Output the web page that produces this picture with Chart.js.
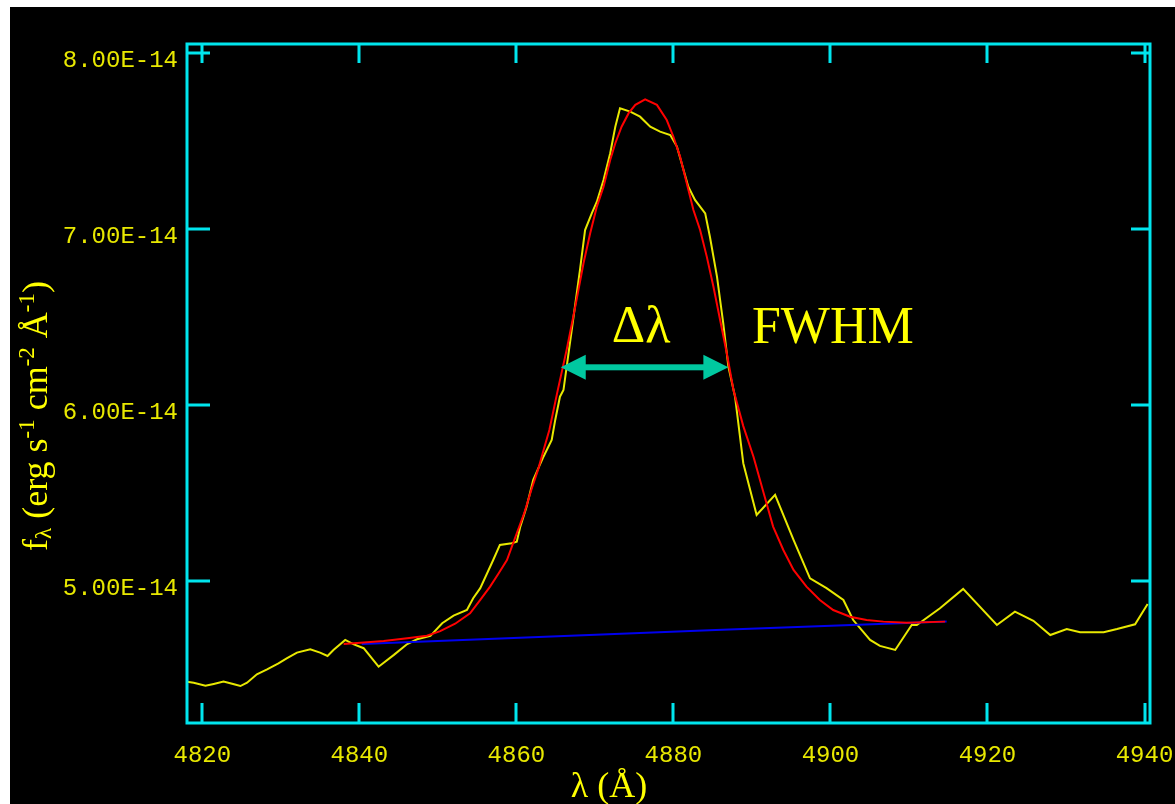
<!DOCTYPE html>
<html><head><meta charset="utf-8">
<script src="https://cdn.jsdelivr.net/npm/chart.js@4.4.1/dist/chart.umd.min.js"></script>
<style>
html,body{margin:0;padding:0;background:#fff;width:1175px;height:804px;overflow:hidden}
#wrap{position:absolute;left:10px;top:7px;width:1165px;height:797px;background:#000}
canvas{display:block}
</style></head><body>
<div id="wrap"><canvas id="c" width="1165" height="797"></canvas></div>
<script>
// ---- data (flux in units of 1e-14 erg s-1 cm-2 A-1) ----
const FLUX_UNIT = 1e-14;
const obsWavelength = [
  4818.05, 4818.9, 4820.4, 4821.45, 4822.7, 4823.8, 4824.85, 4825.7, 4826.95, 4828.25,
  4829.7, 4830.8, 4832.05, 4833.75, 4835.0, 4835.95, 4836.7, 4838.2, 4839.3, 4840.55,
  4842.45, 4844.4, 4846.1, 4847.35, 4849.05, 4850.55, 4852.0, 4853.7, 4854.5, 4855.4,
  4857.05, 4857.9, 4859.4, 4860.05, 4860.5, 4861.3, 4862.15, 4863.45, 4864.5, 4864.95,
  4865.55, 4866.0, 4867.05, 4868.1, 4868.75, 4869.6, 4870.25, 4871.1, 4871.95, 4872.6,
  4873.2, 4874.5, 4875.75, 4877.05, 4878.3, 4879.6, 4880.45, 4881.9, 4882.75, 4884.05,
  4884.65, 4885.55, 4886.35, 4887.0, 4887.85, 4888.9, 4890.6, 4892.95, 4895.3, 4897.4,
  4899.5, 4901.65, 4902.9, 4905.05, 4906.3, 4908.25, 4910.35, 4911.0, 4913.95, 4916.9,
  4921.2, 4923.5, 4925.85, 4928.0, 4930.1, 4931.8, 4934.8, 4936.5, 4938.8, 4940.4
];
const obsFlux = [
  4.428, 4.422, 4.405, 4.415, 4.428, 4.416, 4.403, 4.422, 4.470, 4.498,
  4.532, 4.561, 4.593, 4.612, 4.593, 4.574, 4.608, 4.665, 4.640, 4.618,
  4.513, 4.580, 4.642, 4.669, 4.688, 4.760, 4.803, 4.835, 4.902, 4.959,
  5.119, 5.205, 5.214, 5.223, 5.309, 5.422, 5.574, 5.706, 5.801, 5.915,
  6.047, 6.085, 6.426, 6.767, 6.994, 7.089, 7.155, 7.278, 7.430, 7.581,
  7.686, 7.667, 7.638, 7.581, 7.553, 7.534, 7.468, 7.240, 7.165, 7.089,
  6.956, 6.729, 6.464, 6.218, 6.047, 5.669, 5.375, 5.489, 5.233, 5.015,
  4.959, 4.892, 4.778, 4.665, 4.631, 4.608, 4.750, 4.750, 4.845, 4.955,
  4.750, 4.826, 4.774, 4.693, 4.727, 4.709, 4.709, 4.727, 4.754, 4.869
];
const fitWavelength = [
  4838.0, 4840.15, 4843.1, 4846.1, 4848.6, 4850.3, 4852.2, 4854.1, 4855.4, 4856.65,
  4857.75, 4858.8, 4860.05, 4861.0, 4861.9, 4862.75, 4863.35, 4864.2, 4865.3, 4866.4,
  4867.5, 4868.55, 4869.4, 4870.25, 4871.1, 4871.95, 4872.6, 4873.4, 4874.3, 4875.15,
  4876.4, 4877.9, 4879.15, 4880.0, 4880.85, 4881.7, 4882.55, 4883.4, 4884.25, 4885.1,
  4885.95, 4886.8, 4887.65, 4888.9, 4890.2, 4891.5, 4892.7, 4894.0, 4895.3, 4896.95,
  4898.65, 4900.35, 4902.5, 4904.6, 4906.75, 4909.7, 4914.6
];
const fitFlux = [
  4.642, 4.649, 4.659, 4.674, 4.689, 4.715, 4.757, 4.816, 4.892, 4.968,
  5.044, 5.119, 5.271, 5.385, 5.517, 5.631, 5.726, 5.858, 6.09, 6.313,
  6.559, 6.805, 6.976, 7.127, 7.240, 7.392, 7.487, 7.581, 7.658, 7.705,
  7.737, 7.705, 7.619, 7.524, 7.411, 7.260, 7.108, 6.994, 6.843, 6.672,
  6.483, 6.294, 6.085, 5.88, 5.706, 5.498, 5.309, 5.176, 5.063, 4.968,
  4.892, 4.835, 4.797, 4.778, 4.769, 4.763, 4.769
];
const contWavelength = [4840.3, 4885.4, 4914.8];
const contFlux = [4.642, 4.722, 4.770];

const xTickValues = [4820, 4840, 4860, 4880, 4900, 4920, 4940];
const yTickValues = [5, 6, 7, 8];
const xRange = [4818.05, 4940.7];
const yRange = [4.193, 8.051];

// FWHM annotation (data coordinates)
const fwhmWavelength = [4865.65, 4887.0];
const fwhmLevel = 6.214;
const deltaLabel = { text: 'Δλ', x: 4872.15, y: 6.358 };
const fwhmLabel = { text: 'FWHM', x: 4890.0, y: 6.352 };

const xTitle = 'λ (Å)';
// [text, kind]  kind: 0 normal, -1 subscript, 1 superscript
const yTitleParts = [['f', 0], ['λ', -1], [' (erg s', 0], ['-1', 1], [' cm', 0], ['-2', 1], [' Å', 0], ['-1', 1], [')', 0]];

// ---- styles ----
const YELLOW_TEXT = '#e8e800';
const CYAN = '#00e5ee';
const toPoints = (xs, ys) => xs.map((x, i) => ({ x: x, y: ys[i] * FLUX_UNIT }));

const framePlugin = {
  id: 'frame',
  afterDatasetsDraw(chart) {
    const { ctx, chartArea: a, scales: { x, y } } = chart;
    ctx.save();
    ctx.strokeStyle = CYAN;
    ctx.lineWidth = 3;
    ctx.lineCap = 'butt';
    ctx.strokeRect(a.left, a.top, a.right - a.left, a.bottom - a.top);
    ctx.beginPath();
    xTickValues.forEach(v => {
      const px = Math.round(x.getPixelForValue(v));
      ctx.moveTo(px, a.bottom); ctx.lineTo(px, a.bottom - 20);
      ctx.moveTo(px, a.top); ctx.lineTo(px, a.top + 19);
    });
    yTickValues.forEach(v => {
      const py = Math.round(y.getPixelForValue(v * FLUX_UNIT));
      ctx.moveTo(a.left, py); ctx.lineTo(a.left + 23, py);
      ctx.moveTo(a.right, py); ctx.lineTo(a.right - 19, py);
    });
    ctx.stroke();

    // FWHM arrow
    const x1 = x.getPixelForValue(fwhmWavelength[0]);
    const x2 = x.getPixelForValue(fwhmWavelength[1]);
    const yy = y.getPixelForValue(fwhmLevel * FLUX_UNIT);
    const head = 25, half = 12.5;
    ctx.fillStyle = '#00c8a0';
    ctx.fillRect(x1 + head - 2, yy - 3, (x2 - x1) - 2 * head + 4, 6);
    ctx.beginPath();
    ctx.moveTo(x1, yy); ctx.lineTo(x1 + head, yy - half); ctx.lineTo(x1 + head, yy + half); ctx.closePath();
    ctx.moveTo(x2, yy); ctx.lineTo(x2 - head, yy - half); ctx.lineTo(x2 - head, yy + half); ctx.closePath();
    ctx.fill();

    ctx.fillStyle = '#ffff00';
    ctx.font = '52px "Liberation Serif", "Times New Roman", serif';
    ctx.textAlign = 'left';
    ctx.textBaseline = 'alphabetic';
    [deltaLabel, fwhmLabel].forEach(l => {
      ctx.fillText(l.text, x.getPixelForValue(l.x), y.getPixelForValue(l.y * FLUX_UNIT));
    });
    ctx.restore();
  },
  afterDraw(chart) {
    const { ctx } = chart;
    ctx.save();
    ctx.fillStyle = '#ffff00';
    ctx.textBaseline = 'alphabetic';
    // x title
    ctx.font = '36px "Liberation Serif", "Times New Roman", serif';
    ctx.textAlign = 'center';
    ctx.fillText(xTitle, 599, 790);
    // y title (rotated, rich)
    const base = 36;
    const fontFor = k => (k === 0 ? base : Math.round(base * 0.65)) + 'px "Liberation Serif", "Times New Roman", serif';
    let total = 0;
    yTitleParts.forEach(([t, k]) => { ctx.font = fontFor(k); total += ctx.measureText(t).width; });
    ctx.translate(37, 409);
    ctx.rotate(-Math.PI / 2);
    ctx.textAlign = 'left';
    let u = -total / 2;
    yTitleParts.forEach(([t, k]) => {
      ctx.font = fontFor(k);
      const dv = k === -1 ? base * 0.12 : (k === 1 ? -base * 0.36 : 0);
      ctx.fillText(t, u, dv);
      u += ctx.measureText(t).width;
    });
    ctx.restore();
  }
};

const tickFont = { family: '"Liberation Mono", "DejaVu Sans Mono", monospace', size: 24 };

new Chart(document.getElementById('c'), {
  type: 'line',
  data: {
    datasets: [
      { label: 'Gaussian fit', data: toPoints(fitWavelength, fitFlux), borderColor: '#ff0000', borderWidth: 2, pointRadius: 0, tension: 0, fill: false, order: 0 },
      { label: 'Continuum', data: toPoints(contWavelength, contFlux), borderColor: '#0000ee', borderWidth: 2, pointRadius: 0, tension: 0, fill: false, order: 1 },
      { label: 'Spectrum', data: toPoints(obsWavelength, obsFlux), borderColor: '#e8e800', borderWidth: 2, pointRadius: 0, tension: 0, fill: false, order: 2 }
    ]
  },
  options: {
    responsive: false,
    animation: false,
    devicePixelRatio: 1,
    layout: { padding: { left: 0, top: 37, right: 25, bottom: 0 } },
    plugins: { legend: { display: false }, tooltip: { enabled: false }, title: { display: false } },
    scales: {
      x: {
        type: 'linear', position: 'bottom', min: xRange[0], max: xRange[1],
        afterBuildTicks: s => { s.ticks = xTickValues.map(v => ({ value: v })); },
        afterFit: s => { s.height = 81; s.paddingLeft = 0; s.paddingRight = 0; },
        grid: { display: false, drawTicks: false },
        border: { display: false },
        ticks: { color: YELLOW_TEXT, font: tickFont, padding: 18, autoSkip: false, maxRotation: 0, minRotation: 0, callback: v => String(v) }
      },
      y: {
        type: 'linear', position: 'left', min: yRange[0] * FLUX_UNIT, max: yRange[1] * FLUX_UNIT,
        afterBuildTicks: s => { s.ticks = yTickValues.map(v => ({ value: v * FLUX_UNIT })); },
        afterFit: s => { s.width = 177; s.paddingTop = 0; s.paddingBottom = 0; },
        grid: { display: false, drawTicks: false },
        border: { display: false },
        ticks: { color: YELLOW_TEXT, font: tickFont, padding: 9, labelOffset: 8, autoSkip: false, callback: v => Number(v).toExponential(2).toUpperCase() }
      }
    }
  },
  plugins: [framePlugin]
});
</script>
</body></html>
